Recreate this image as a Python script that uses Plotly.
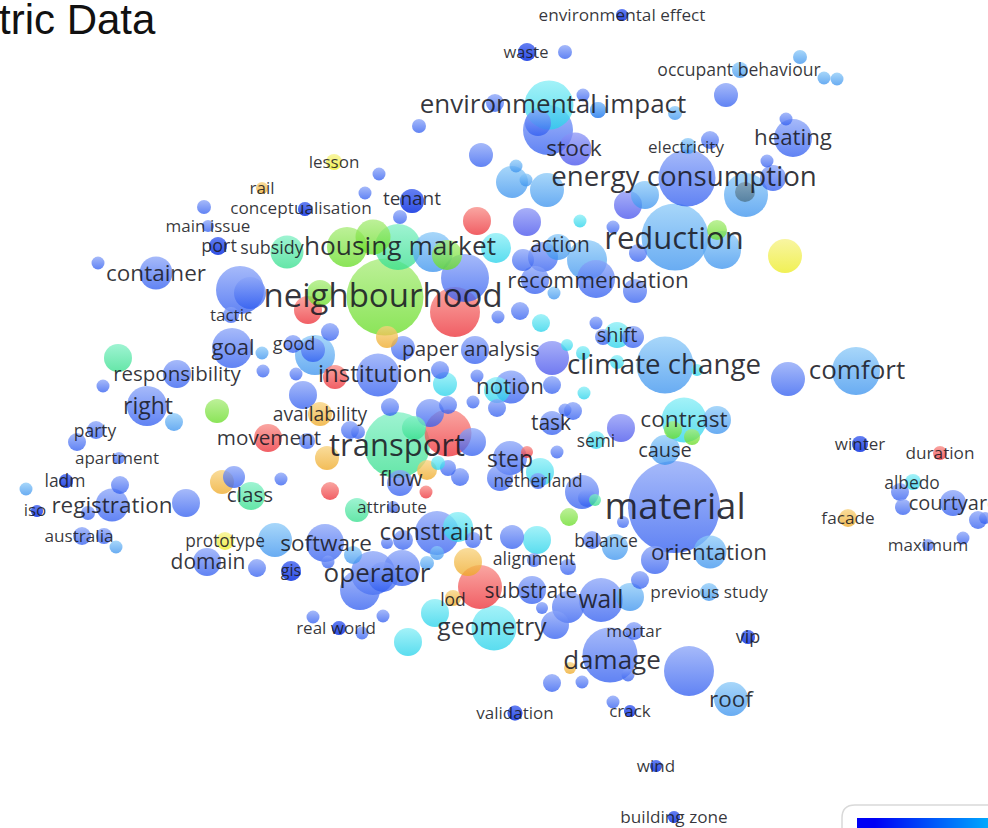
import plotly.graph_objects as go

# Bubble groups: position on the map, diameter
blue_x = [674,687,156,147,232,112,325,793,610,601, 360,373,402,383,437,378,596,510,511,400, 207,177,403,475,543,532,412,305,208,218,
          231,293,96,119,66,37,104,82,393,291, 339,534,592,538,552,634,748,515,630,656, 674,622,527,565,860,900,903,953,978,963,
          985,928,481,379,365,204,400,98,103,77, 263,296,330,313,240,250,303,390,430,448, 472,350,358,307,473,465,440,477,419,495,
          583,598,538,548,726,710,786,767,773,613, 638,523,535,635,520,498,596,633,603,552, 497,573,565,557,500,582,587,512,568,655,
          623,640,568,555,542,120,88,186,234,281, 460,448,257,313,383,362,403,473,387,328, 552,582,689,613,628,788]
blue_y = [507,178,273,406,348,505,543,138,655,600, 590,573,568,577,533,375,279,458,387,483, 562,374,348,350,257,590,201,209,226,246,
          315,344,430,458,481,511,536,536,507,571, 628,560,540,481,423,631,637,713,711,766, 817,15,52,52,444,492,507,503,520,538,
          518,545,155,174,193,207,217,263,386,442, 371,374,332,350,290,293,395,407,413,405, 442,430,432,441,402,278,370,376,126,103,
          95,110,123,130,95,140,119,161,178,227, 253,260,280,291,311,317,323,337,337,385, 408,411,410,452,478,492,498,537,567,560,
          522,580,607,625,608,485,513,503,477,479, 477,468,568,617,616,633,540,540,543,562, 683,682,671,702,675,379]
blue_d = [92,57,33,40,40,33,38,38,55,44, 40,44,36,30,44,43,38,34,33,26, 28,28,24,28,30,28,24,14,12,18,
          16,18,18,12,14,12,16,18,12,20, 14,14,18,16,24,18,14,15,12,12, 12,12,18,14,16,18,16,26,18,13,
          12,12,24,13,13,14,14,13,13,18, 13,13,18,24,48,32,28,18,28,18, 28,18,14,16,13,48,18,13,14,18,
          13,16,26,50,24,18,13,13,26,13, 18,22,28,24,18,13,13,22,16,18, 18,18,13,13,26,34,18,24,16,28,
          12,18,32,28,12,18,14,28,22,13, 18,16,18,13,13,13,20,16,12,13, 18,13,50,13,13,34]
violet_x = [575,628,527,552,621]
violet_y = [149,205,222,358,428]
violet_d = [33,28,28,34,28]
deep_x = [66,37,291,656,630,674,622,748,218,412,339,860,305,527,515]
deep_y = [481,511,571,766,711,817,15,637,246,201,628,444,209,52,713]
deep_d = [14,12,20,12,12,12,12,14,18,24,14,16,14,18,15]
light_x = [675,665,856,710,731,665,717,615,709,740, 688,800,824,837,675,598,722,746,512,516, 526,547,645,587,558,554,174,315,262,26,
           116,275,427,353,437,630,433]
light_y = [237,365,371,552,699,450,420,547,592,70, 146,57,78,79,113,110,250,195,182,166, 180,190,195,260,247,293,422,355,353,489,
           547,540,563,555,553,597,252]
light_d = [67,57,48,33,34,30,28,26,18,16, 16,14,13,13,14,16,38,44,32,13, 13,34,28,40,26,13,18,40,13,13,
           13,34,14,18,14,28,40]
cyan_x = [549,494,684,617,596,913,496,580,541,567, 583,584,540,537,458,408,435,445,497,697, 617,438]
cyan_y = [105,628,420,335,440,482,248,221,323,345, 353,393,472,540,527,642,613,384,390,370, 362,463]
cyan_d = [49,45,45,26,18,16,30,13,18,12, 14,13,28,28,30,28,28,24,26,12, 14,14]
teal_x = [397,398,287,251,118,357,595,414]
teal_y = [445,247,252,496,358,510,500,428]
teal_d = [66,46,33,28,28,24,12,24]
green_x = [385,373,347,320,447,217,569,717,673,692]
green_y = [297,237,247,293,255,411,517,230,430,437]
green_d = [77,35,40,26,30,24,18,20,18,16]
yellow_x = [334,225,785]
yellow_y = [162,541,256]
yellow_d = [16,18,34]
orange_x = [262,320,327,453,848,387,222,468,570,427]
orange_y = [188,414,458,598,518,337,482,562,668,470]
orange_d = [12,24,24,16,18,22,24,28,12,20]
red_x = [268,940,477,308,335,448,455,527,330,426,480]
red_y = [438,453,221,310,377,433,312,452,491,492,587]
red_d = [28,14,28,28,24,47,50,12,18,13,44]
grey_x = [745]
grey_y = [192]
grey_d = [20]

# Keyword labels
label_text = ["neighbourhood","material","transport","reduction","energy consumption","climate change","environmental impact","housing market","comfort","operator",
              "geometry","damage","wall","constraint","institution","recommendation","container","right","goal","registration",
              "software","heating","stock","orientation","roof","contrast","cause","step","notion","flow",
              "class","domain","movement","availability","responsibility","paper analysis","action","substrate","subsidy","tenant",
              "conceptualisation","main issue","port","tactic","lesson","rail","good","party","apartment","ladm",
              "iso","australia","attribute","prototype","gis","real world","lod","alignment","balance","netherland",
              "task","semi","shift","previous study","mortar","vip","validation","crack","wind","building zone",
              "environmental effect","waste","occupant behaviour","electricity","winter","duration","albedo","courtyard","facade","maximum"]
label_x = [383,675,397,674,684,664,553,400,857,377,
           492,612,601,436,375,598,156,148,233,112,
           326,793,574,709,731,684,665,510,510,401,
           250,208,269,320,177,471,560,531,272,412,
           301,208,219,231,334,262,294,95,117,65,
           35,79,392,225,291,336,453,534,606,538,
           551,596,617,709,634,748,515,630,656,674,
           622,526,739,686,860,940,912,954,848,928]
label_y = [296,507,445,238,177,365,104,246,370,573,
           627,660,600,532,374,280,273,406,348,505,
           543,137,148,552,699,419,450,459,386,479,
           495,562,438,414,374,349,245,591,248,199,
           208,226,246,315,162,188,344,431,458,481,
           510,536,507,541,571,628,600,559,541,481,
           423,441,335,592,631,637,713,711,766,817,
           15,52,70,147,444,453,483,503,518,545]
label_size = [33,36.5,31,31,27.7,27.7,26,26.3,26,26,
              24.5,26,24.6,24,24,22.5,22.5,23,22,22.5,
              22.5,22.3,22.7,22.4,22.5,22.7,20,23,22.3,22,
              20.7,21,20.7,19.3,20.5,20.6,20.9,21,17.9,19,
              17.2,17,18,17,17,17,18,17.4,17,17.5,
              17,17.2,17.2,17.3,16,17,17.5,17.7,17.5,17.3,
              21,17.3,20,17.2,17,18,17,17,17,17.2,
              17.2,16.5,17.6,17,17,17.2,17.4,20,17.2,17]

title_text = "tric Data"
legend_values = [0, 0.25, 0.5, 0.75, 1]
legend_x = [873.5, 906.5, 939.5, 972.5, 1005.5]
legend_y = [824, 836]

groups = [
    (blue_x, blue_y, blue_d, "#2f5cf0", "#8aa4f8"),
    (violet_x, violet_y, violet_d, "#4450ec", "#8c96f6"),
    (deep_x, deep_y, deep_d, "#1f3ee0", "#4f6cf0"),
    (light_x, light_y, light_d, "#3a92ee", "#8ccaf8"),
    (cyan_x, cyan_y, cyan_d, "#26d2ea", "#86eef6"),
    (teal_x, teal_y, teal_d, "#34de8c", "#80f0c4"),
    (green_x, green_y, green_d, "#66dc24", "#a8ec78"),
    (yellow_x, yellow_y, yellow_d, "#ecec20", "#f6f284"),
    (orange_x, orange_y, orange_d, "#eea824", "#f8d27c"),
    (red_x, red_y, red_d, "#ec2c34", "#f88a84"),
    (grey_x, grey_y, grey_d, "#4a7088", "#7a96a8"),
]
points = []
for xs, ys, ds, dark, light in groups:
    points += [(x, y, d, dark, light) for x, y, d in zip(xs, ys, ds)]
points.sort(key=lambda p: -p[2])

fig = go.Figure()
fig.add_trace(go.Scatter(
    x=[p[0] for p in points], y=[p[1] for p in points], mode="markers",
    marker=dict(size=[p[2] for p in points], color=[p[4] for p in points], opacity=0.76,
                line=dict(width=0),
                gradient=dict(type="vertical", color=[p[3] for p in points])),
    hoverinfo="skip", showlegend=False))
fig.add_trace(go.Scatter(
    x=label_x, y=[y + s * 0.09 for y, s in zip(label_y, label_size)], text=label_text,
    mode="text", textposition="middle center",
    textfont=dict(family="Open Sans", size=label_size, color="rgba(25,25,35,0.88)"),
    hoverinfo="skip", showlegend=False, cliponaxis=False))
fig.add_trace(go.Heatmap(
    x=legend_x, y=legend_y, z=[legend_values, legend_values], zsmooth="best", showscale=False,
    colorscale=[[0, "#0000f5"], [1, "#00c4ff"]], hoverinfo="skip"))

fig.add_annotation(x=0, y=19, xref="x", yref="y", text=title_text, showarrow=False,
                   xanchor="left", yanchor="middle", xshift=-3,
                   font=dict(family="Liberation Sans", size=42, color="#111111"))
fig.add_shape(type="path", path="M 988 805 L 855 805 Q 842 805 842 818 L 842 830",
              line=dict(color="#d9d9d9", width=1.5), xref="x", yref="y")
fig.update_layout(
    width=988, height=828, margin=dict(l=0, r=0, t=0, b=0),
    paper_bgcolor="white", plot_bgcolor="white",
    xaxis=dict(visible=False, range=[0, 988], fixedrange=True),
    yaxis=dict(visible=False, range=[828, 0], fixedrange=True),
)
fig.write_html("out.html", config={"displayModeBar": False},
               post_script="document.body.style.margin='0';document.body.style.overflow='hidden';")
